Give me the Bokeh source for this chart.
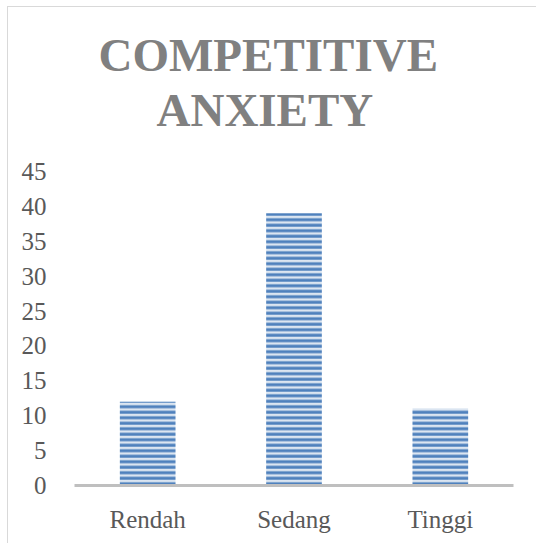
from bokeh.plotting import figure
from bokeh.models import FactorRange, Range1d, Title
from bokeh.embed import file_html
from bokeh.resources import INLINE

categories = ["Rendah", "Sedang", "Tinggi"]
counts = [12, 39, 11]
y_ticks = [0, 5, 10, 15, 20, 25, 30, 35, 40, 45]
title_lines = ["COMPETITIVE", "ANXIETY"]

p = figure(
    width=529, height=537,
    x_range=FactorRange(factors=categories),
    y_range=Range1d(0, 45),
    output_backend="svg", toolbar_location=None,
    min_border_left=66, min_border_right=24,
    min_border_top=164, min_border_bottom=59,
    margin=(6, 0, 0, 7),
    styles={"border-left": "1px solid #d9d9d9", "border-top": "1px solid #d9d9d9"},
)
p.outline_line_color = None
p.xgrid.grid_line_color = None
p.ygrid.grid_line_color = None

p.vbar(x=categories, top=counts, width=0.38, bottom=0,
       fill_color="#dbe5f1", line_color=None,
       hatch_pattern="horizontal_line", hatch_color="#4f81bd",
       hatch_scale=5.5, hatch_weight=3)

p.yaxis.ticker = y_ticks
p.yaxis.axis_line_color = None
p.yaxis.major_tick_line_color = None
p.yaxis.minor_tick_line_color = None
p.yaxis.major_label_standoff = 22
p.yaxis.major_label_text_font = "Liberation Serif"
p.yaxis.major_label_text_font_size = "25px"
p.yaxis.major_label_text_color = "#595959"

p.xaxis.axis_line_color = "#bfbfbf"
p.xaxis.axis_line_width = 3
p.xaxis.major_tick_line_color = None
p.xaxis.minor_tick_line_color = None
p.xaxis.major_label_standoff = 14
p.xaxis.major_label_text_font = "Liberation Serif"
p.xaxis.major_label_text_font_size = "25px"
p.xaxis.major_label_text_color = "#595959"

def style_title(t, standoff, offset):
    t.align = "left"
    t.offset = offset
    t.text_font = "Liberation Serif"
    t.text_font_style = "bold"
    t.text_font_size = "47px"
    t.text_color = "#808080"
    t.standoff = standoff

p.title.text = title_lines[0]
style_title(p.title, 2, 24)

spacer = Title(text=" ", text_font_size="2px", standoff=32)
p.add_layout(spacer, "above")

t2 = Title(text=title_lines[1])
style_title(t2, 0, 82)
p.add_layout(t2, "above")

open("out.html", "w").write(file_html(p, INLINE))
